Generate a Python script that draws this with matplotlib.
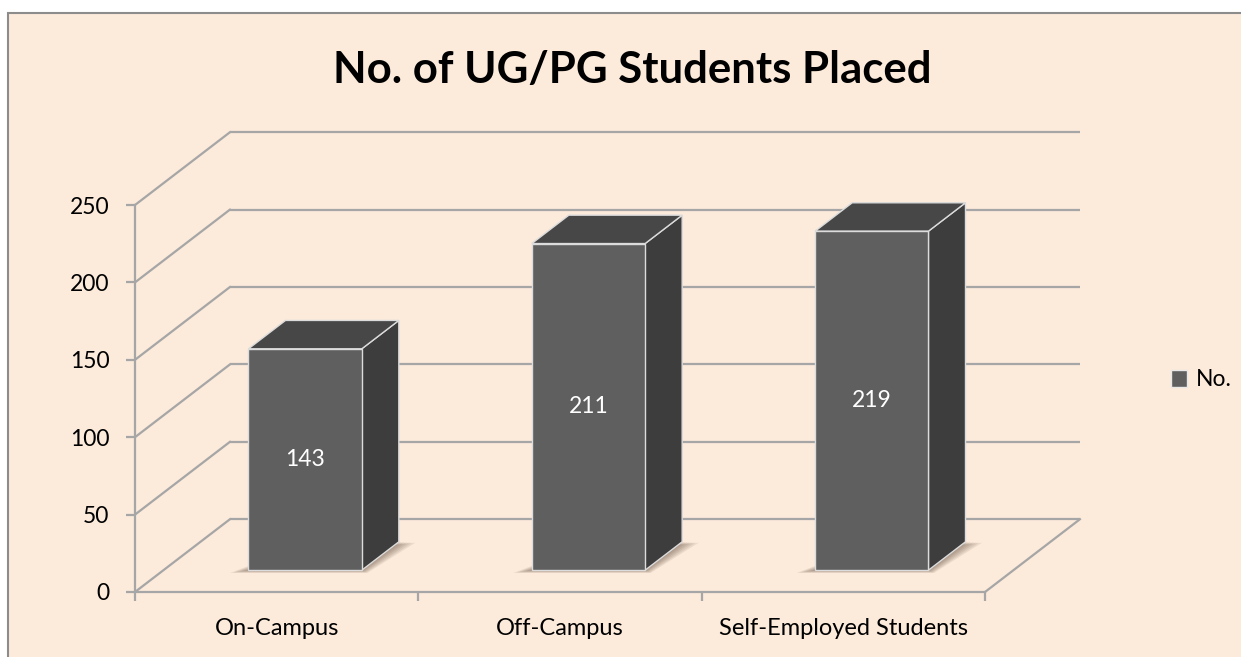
import matplotlib
matplotlib.use('Agg')
import matplotlib.pyplot as plt
from matplotlib.patches import Polygon, Rectangle, Patch

categories = ['On-Campus', 'Off-Campus', 'Self-Employed Students']
values = [143, 211, 219]
series_name = 'No.'
y_ticks = [0, 50, 100, 150, 200, 250]
title = 'No. of UG/PG Students Placed'

FONT = 'Lato'
BG = '#FCEADB'
GRID = '#A6A6A6'
FRONT = '#5F5F5F'
TOP = '#474747'
SIDE = '#3D3D3D'
EDGE = '#DCDCDC'

W, H = 1241, 657
fig = plt.figure(figsize=(W / 100, H / 100), dpi=100)
fig.patch.set_facecolor('white')
fig.patches.append(Rectangle((8 / W, -0.1), 1.2, 0.1 + (H - 13) / H,
                             transform=fig.transFigure, fc=BG, ec='#8C8C8C', lw=1.5,
                             zorder=-10))

ax = fig.add_axes([135 / W, (H - 592) / H, 850 / W, 387 / H])
ax.set_facecolor('none')
ax.set_xlim(-0.5, len(categories) - 0.5)
ax.set_ylim(0, 250)

# depth of the 3D box in data units
DX, DY = 0.335, 47.0
F0, FD = 0.30, 0.39   # bar depth start / depth fraction
BW = 0.40

xmin, xmax = -0.5, len(categories) - 0.5
# back wall gridlines and left wall diagonals
for v in y_ticks:
    ax.plot([xmin + DX, xmax + DX], [v + DY, v + DY], color=GRID, lw=1.6,
            clip_on=False, zorder=1, solid_capstyle='butt')
    ax.plot([xmin, xmin + DX], [v, v + DY], color=GRID, lw=1.6, clip_on=False, zorder=1)
ax.plot([xmax, xmax + DX], [0, DY], color=GRID, lw=1.6, clip_on=False, zorder=1)

# bars
for i, v in enumerate(values):
    x0 = i - BW / 2 + F0 * DX
    y0 = F0 * DY
    ddx, ddy = FD * DX, FD * DY
    # soft shadow on the floor (layered for a blur look)
    n = 6
    for j in range(n):
        e = (n - j) / n
        ex, ey = 0.065 * e, 3.0 * e
        sh = [(x0 - ex, y0 - ey * 0.6), (x0 + BW + ex * 0.3, y0 - ey * 0.6),
              (x0 + BW + ddx + ex * 0.9, y0 + ddy - ey * 0.2), (x0 + ddx - ex, y0 + ddy * 0.4)]
        ax.add_patch(Polygon(sh, closed=True, fc='#4A3626', ec='none', alpha=0.09,
                             clip_on=False, zorder=2))
    front = Rectangle((x0, y0), BW, v, fc=FRONT, ec=EDGE, lw=1.0, zorder=4, clip_on=False)
    top = Polygon([(x0, y0 + v), (x0 + BW, y0 + v), (x0 + BW + ddx, y0 + v + ddy),
                   (x0 + ddx, y0 + v + ddy)], closed=True, fc=TOP, ec=EDGE, lw=1.0,
                  zorder=3, clip_on=False)
    side = Polygon([(x0 + BW, y0), (x0 + BW + ddx, y0 + ddy), (x0 + BW + ddx, y0 + v + ddy),
                    (x0 + BW, y0 + v)], closed=True, fc=SIDE, ec=EDGE, lw=1.0,
                   zorder=3, clip_on=False)
    for p in (side, top, front):
        ax.add_patch(p)
    ax.text(x0 + BW / 2, y0 + v / 2, str(v), color='white', ha='center', va='center',
            fontsize=16.5, family=FONT, zorder=5)

# axes styling
for s in ['top', 'right']:
    ax.spines[s].set_visible(False)
for s in ['left', 'bottom']:
    ax.spines[s].set_color(GRID)
    ax.spines[s].set_linewidth(1.6)
ax.set_yticks(y_ticks)
ax.set_yticklabels([str(t) for t in y_ticks], fontsize=16.5, family=FONT)
ax.tick_params(axis='y', length=6.5, width=1.6, color=GRID, pad=12)
ax.set_xticks([i - 0.5 for i in range(len(categories) + 1)])
ax.set_xticklabels([''] * (len(categories) + 1))
ax.tick_params(axis='x', which='major', length=6.5, width=1.6, color=GRID)
ax.set_xticks(range(len(categories)), minor=True)
ax.set_xticklabels(categories, minor=True, fontsize=17, family=FONT)
ax.tick_params(axis='x', which='minor', length=0, pad=19)

fig.text(632 / W, 1 - 70 / H, title, ha='center', va='center', fontsize=31.5,
         fontweight='bold', family=FONT)

fig.legend(handles=[Patch(fc=FRONT, ec='#E8E8E8', lw=1.0)], labels=[series_name],
           loc='center left', bbox_to_anchor=(1150 / W, 1 - 380 / H), frameon=False,
           handlelength=0.7, handleheight=0.7, handletextpad=0.4,
           prop={'family': FONT, 'size': 16.5})

fig.savefig('out.png', dpi=100, facecolor='white')
